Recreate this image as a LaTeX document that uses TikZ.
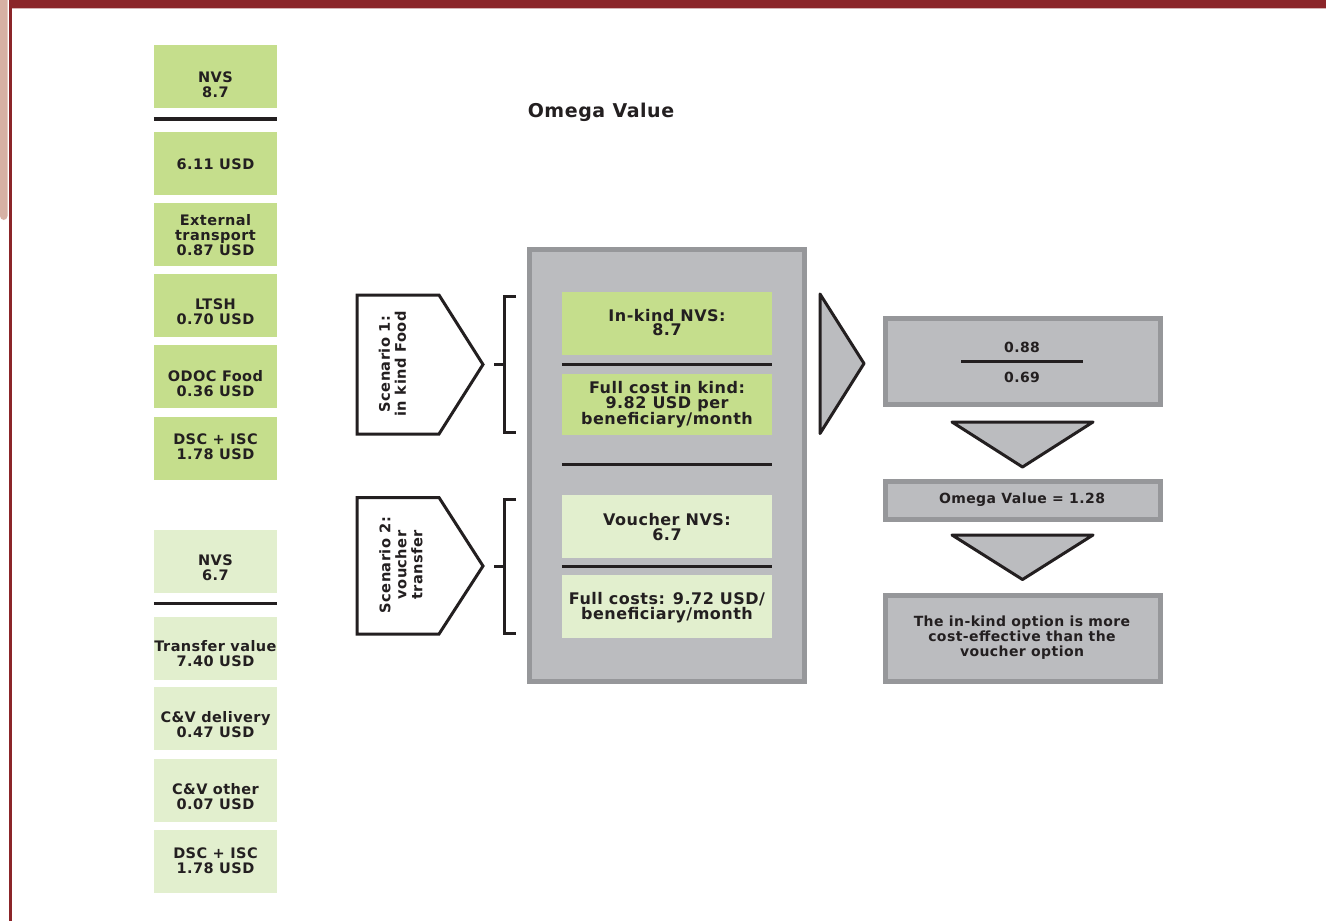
\documentclass[tikz,border=0pt]{standalone}
\usepackage{fontspec}
\setmainfont{DejaVu Sans}[LetterSpace=3]
\definecolor{barred}{HTML}{8B2529}
\definecolor{stripe}{HTML}{D6B1A4}
\definecolor{dkgreen}{HTML}{C5DE8C}
\definecolor{ltgreen}{HTML}{E2EFCE}
\definecolor{panel}{HTML}{BBBCBF}
\definecolor{panelrim}{HTML}{96979A}
\definecolor{ink}{HTML}{231F20}
\tikzset{
  lbox/.style={fill=#1, draw=none, minimum width=123pt, minimum height=63pt, inner sep=0pt},
  cbox/.style={fill=#1, draw=none, minimum width=210pt, inner sep=0pt},
  gbox/.style={fill=panel, draw=panelrim, line width=5pt, minimum width=275pt, inner sep=0pt},
  ltxt/.style={align=center, text=ink, inner sep=0pt, font=\bfseries\fontsize{14.5}{15}\selectfont},
  ctxt/.style={align=center, text=ink, inner sep=0pt, font=\bfseries\fontsize{16}{14.8}\selectfont},
  stxt/.style={align=center, text=ink, inner sep=0pt, rotate=90, font=\bfseries\fontsize{14.6}{16}\selectfont},
  sepline/.style={draw=ink, line width=3.4pt},
  outline/.style={draw=ink, line width=3pt, line join=miter},
  tri/.style={draw=ink, fill=panel, line width=3pt, line join=round},
}
\begin{document}
\begin{tikzpicture}[x=1pt,y=-1pt]
% canvas
\fill[white] (0,0) rectangle (1326,921);
\useasboundingbox (0,0) rectangle (1326,921);

% page frame: top band, side tab and rule
\fill[stripe, rounded corners=4pt] (0,-10) rectangle (7.5,220);
\fill[barred] (9,0) rectangle (1326,8);
\draw[barred!35, line width=0.7pt] (9,8.8) -- (1326,8.8);
\fill[barred] (9,8) rectangle (11.5,921);

% ---------- left column: in-kind cost build-up ----------
\node[lbox=dkgreen] (nvsA) at (215.5,76.5) {};
\node[ltxt] (nvsAtx) at (215.5,84.5) {NVS\\8.7};
\draw[sepline] ([yshift=-10.7pt]nvsA.south west) -- ([yshift=-10.7pt]nvsA.south east);

\node[lbox=dkgreen] (food) at (215.5,163.5) {};
\node[ltxt] (foodtx) at (215.5,164) {6.11 USD};

\node[lbox=dkgreen] (ext) at (215.5,234.5) {};
\node[ltxt] (exttx) at (215.5,235) {External\\transport\\0.87 USD};

\node[lbox=dkgreen] (ltsh) at (215.5,305.5) {};
\node[ltxt] (ltshtx) at (215.5,311.5) {LTSH\\0.70 USD};

\node[lbox=dkgreen] (odoc) at (215.5,376.5) {};
\node[ltxt] (odoctx) at (215.5,384) {ODOC Food\\0.36 USD};

\node[lbox=dkgreen] (dscA) at (215.5,448) {};
\node[ltxt] (dscAtx) at (215.5,447) {DSC + ISC\\1.78 USD};

% ---------- left column: voucher cost build-up ----------
\node[lbox=ltgreen] (nvsB) at (215.5,561.5) {};
\node[ltxt] (nvsBtx) at (215.5,567.5) {NVS\\6.7};
\draw[sepline] ([yshift=-10.3pt]nvsB.south west) -- ([yshift=-10.3pt]nvsB.south east);

\node[lbox=ltgreen] (tv) at (215.5,648.5) {};
\node[ltxt] (tvtx) at (215.5,653.5) {Transfer value\\7.40 USD};

\node[lbox=ltgreen] (cvd) at (215.5,718.5) {};
\node[ltxt] (cvdtx) at (215.5,724.5) {C\&V delivery\\0.47 USD};

\node[lbox=ltgreen] (cvo) at (215.5,790) {};
\node[ltxt] (cvotx) at (215.5,796.5) {C\&V other\\0.07 USD};

\node[lbox=ltgreen] (dscB) at (215.5,861.5) {};
\node[ltxt] (dscBtx) at (215.5,860.5) {DSC + ISC\\1.78 USD};

% ---------- title ----------
\node[text=ink, inner sep=0pt, font=\bfseries\fontsize{19}{20}\selectfont] (title) at (601,112) {Omega Value};

% ---------- scenario tags ----------
\draw[outline, fill=white] (357,295) -- (439,295) -- (483,364.5) -- (439,434) -- (357,434) -- cycle;
\coordinate (tipA) at (483,364.5);
\node[stxt] (scA) at (392.5,364) {Scenario 1:\\in kind Food};

\draw[outline, fill=white] (357,497.5) -- (439,497.5) -- (483,566) -- (439,634) -- (357,634) -- cycle;
\coordinate (tipB) at (483,566);
\node[stxt] (scB) at (401,565) {Scenario 2:\\voucher\\transfer};

% brackets
\coordinate (brA) at (504,364.5);
\coordinate (brB) at (504,566);
\draw[outline] (516,296.5) -- (504,296.5) -- (504,432.5) -- (516,432.5);
\draw[outline] ([xshift=-10pt]brA) -- (brA);
\draw[outline] (516,499.5) -- (504,499.5) -- (504,633) -- (516,633);
\draw[outline] ([xshift=-10pt]brB) -- (brB);

% ---------- central comparison panel ----------
\node[gbox, minimum height=432pt] (panel) at (667,465.5) {};

\node[cbox=dkgreen, minimum height=63pt] (ikA) at (667,323.5) {};
\node[ctxt] (ikAtx) at (667,322.5) {In-kind NVS:\\8.7};
\draw[sepline] ([yshift=-9.3pt]ikA.south west) -- ([yshift=-9.3pt]ikA.south east);

\node[cbox=dkgreen, minimum height=61pt] (ikB) at (667,404.5) {};
\node[ctxt] (ikBtx) at (667,404.5) {Full cost in kind:\\9.82 USD per\\beneficiary/month};
\draw[sepline] ([yshift=-29pt]ikB.south west) -- ([yshift=-29pt]ikB.south east);

\node[cbox=ltgreen, minimum height=63pt] (vA) at (667,526.5) {};
\node[ctxt] (vAtx) at (667,527) {Voucher NVS:\\6.7};
\draw[sepline] ([yshift=-8.3pt]vA.south west) -- ([yshift=-8.3pt]vA.south east);

\node[cbox=ltgreen, minimum height=63pt] (vB) at (667,606.5) {};
\node[ctxt] (vBtx) at (667,607.5) {Full costs: 9.72 USD/\\beneficiary/month};

% ---------- result chain ----------
\draw[tri] (820,294) -- (864,363.5) -- (820,433.5) -- cycle;

\node[gbox, minimum height=86pt] (ratio) at (1023,361.5) {};
\node[ltxt, font=\bfseries\fontsize{14}{15}\selectfont] (num) at (1022,347) {0.88};
\node[ltxt, font=\bfseries\fontsize{14}{15}\selectfont] (den) at (1022,377) {0.69};
\draw[draw=ink, line width=3pt] (961,361) -- (1083,361);

\draw[tri] (952,422) -- (1093,422) -- (1022.5,467) -- cycle;

\node[gbox, minimum height=38pt] (omega) at (1023,500.5) {};
\node[ltxt, font=\bfseries\fontsize{14}{15}\selectfont] (omegatx) at (1022,500) {Omega Value = 1.28};

\draw[tri] (952,535) -- (1093,535) -- (1022.5,579.5) -- cycle;

\node[gbox, minimum height=86pt] (concl) at (1023,638.5) {};
\node[ltxt, font=\bfseries\fontsize{14}{15}\selectfont] (concltx) at (1022,638) {The in-kind option is more\\cost-effective than the\\voucher option};
\end{tikzpicture}
\end{document}
